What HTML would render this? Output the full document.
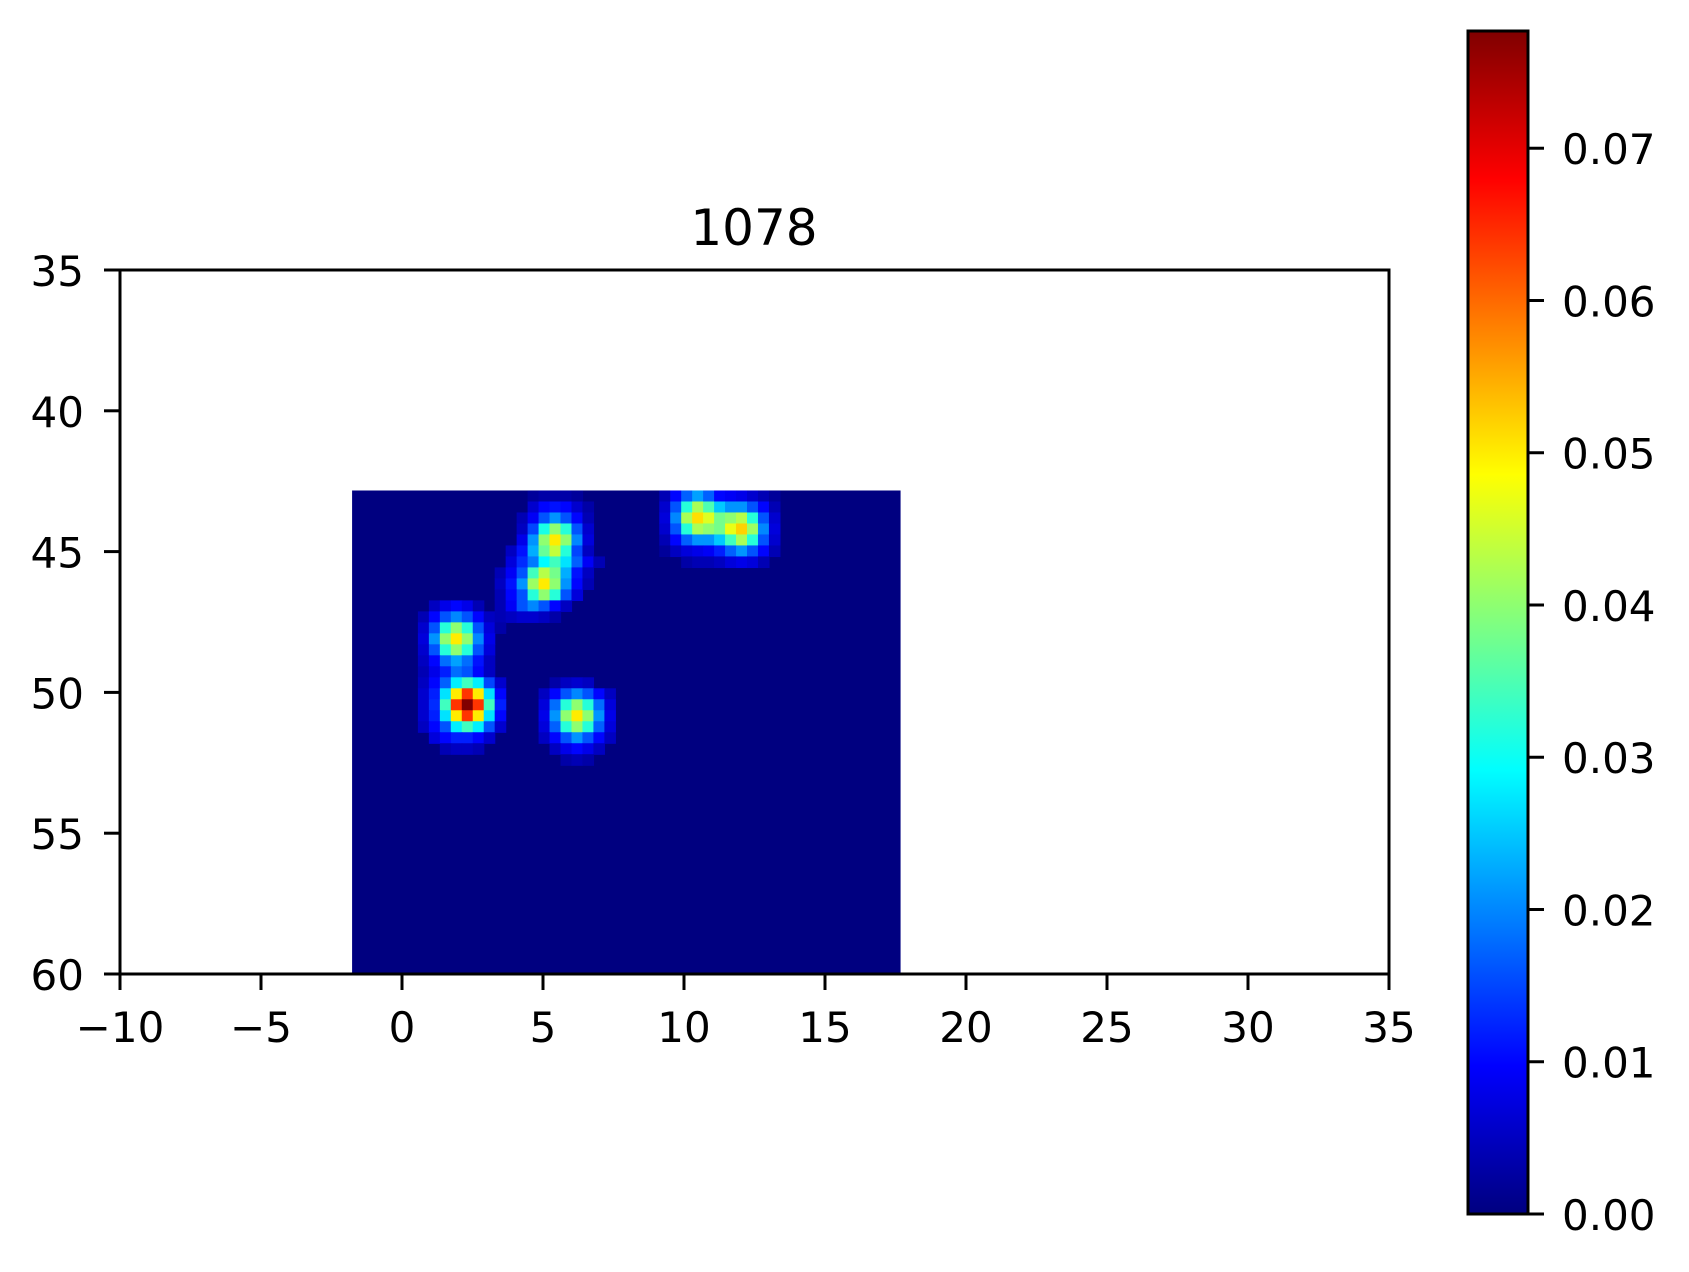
<!DOCTYPE html>
<html><head><meta charset="utf-8"><style>
html,body{margin:0;padding:0;background:#fff;}
svg{display:block;font-family:"DejaVu Sans","Liberation Sans",sans-serif;}
</style></head><body>
<svg id="chart" width="1689" height="1272" viewBox="0 0 1689 1272" xmlns="http://www.w3.org/2000/svg">
<rect x="0" y="0" width="1689" height="1272" fill="#fff"/>
<text x="754" y="245" font-size="50" text-anchor="middle" fill="#000">1078</text>
<g id="plot"></g>
<g id="axes"></g>
<g id="cbar"></g>
</svg>
<script>
// ---- data ----
const xTicks = [-10, -5, 0, 5, 10, 15, 20, 25, 30, 35];
const yTicks = [35, 40, 45, 50, 55, 60];
const cbTicks = [0.00, 0.01, 0.02, 0.03, 0.04, 0.05, 0.06, 0.07];
const xDomain = [-10, 35];
const yDomain = [35, 60];
const extentX = [-1.77, 17.68];
const extentY = [42.83, 60];
const nCols = 50;
const nRows = 44;
const vMax = 0.0777;
// sparse heatmap rows: [row, startCol, values]
const cellRows = [
  [0, 16, [0.002,0.003,0.003,0.003,0.002]],
  [1, 16, [0.006,0.010,0.011,0.010,0.006,0.003]],
  [2, 15, [0.004,0.009,0.016,0.021,0.016,0.010,0.004]],
  [3, 15, [0.005,0.015,0.031,0.040,0.032,0.016,0.006]],
  [4, 15, [0.008,0.021,0.040,0.050,0.040,0.020,0.007]],
  [5, 14, [0.005,0.011,0.023,0.037,0.044,0.032,0.015,0.005]],
  [6, 14, [0.007,0.013,0.019,0.029,0.034,0.027,0.017,0.009,0.004]],
  [7, 13, [0.004,0.009,0.016,0.034,0.043,0.038,0.023,0.011,0.005]],
  [8, 13, [0.005,0.011,0.021,0.041,0.050,0.040,0.021,0.010,0.004]],
  [9, 13, [0.004,0.010,0.016,0.032,0.040,0.032,0.016,0.007]],
  [10, 13, [0.004,0.009,0.016,0.020,0.016,0.010,0.005]],
  [10, 7, [0.005,0.008,0.010,0.008,0.004]],
  [11, 6, [0.004,0.010,0.016,0.020,0.016,0.010,0.005,0.004,0.005,0.006,0.006,0.005,0.003]],
  [12, 6, [0.006,0.016,0.032,0.040,0.032,0.016,0.007,0.003]],
  [13, 6, [0.007,0.021,0.040,0.050,0.040,0.020,0.008]],
  [14, 6, [0.006,0.016,0.032,0.040,0.032,0.016,0.007]],
  [15, 6, [0.005,0.010,0.018,0.022,0.018,0.011,0.005]],
  [16, 6, [0.004,0.008,0.012,0.018,0.016,0.010,0.005]],
  [17, 6, [0.005,0.010,0.017,0.028,0.034,0.028,0.015,0.006]],
  [18, 6, [0.006,0.012,0.027,0.050,0.064,0.050,0.027,0.010]],
  [19, 6, [0.006,0.013,0.034,0.064,0.078,0.064,0.034,0.012]],
  [20, 6, [0.006,0.012,0.027,0.050,0.064,0.050,0.027,0.010]],
  [21, 6, [0.005,0.010,0.016,0.028,0.034,0.028,0.016,0.006]],
  [22, 7, [0.007,0.010,0.012,0.012,0.010,0.006]],
  [23, 8, [0.004,0.005,0.005,0.004]],
  [17, 18, [0.003,0.005,0.006,0.005]],
  [18, 17, [0.005,0.010,0.016,0.020,0.016,0.010,0.005]],
  [19, 17, [0.007,0.018,0.032,0.040,0.032,0.018,0.007]],
  [20, 17, [0.008,0.021,0.040,0.050,0.040,0.021,0.008]],
  [21, 17, [0.007,0.017,0.032,0.040,0.032,0.017,0.007]],
  [22, 17, [0.005,0.010,0.016,0.021,0.016,0.010,0.005]],
  [23, 18, [0.005,0.008,0.010,0.008,0.005]],
  [24, 19, [0.003,0.004,0.003]],
  [0, 28, [0.004,0.010,0.017,0.022,0.017,0.010,0.009,0.008,0.006,0.004,0.002]],
  [1, 28, [0.006,0.016,0.032,0.042,0.035,0.025,0.021,0.021,0.016,0.010,0.004]],
  [2, 28, [0.007,0.020,0.042,0.051,0.046,0.038,0.040,0.043,0.032,0.016,0.006]],
  [3, 28, [0.006,0.016,0.032,0.042,0.040,0.038,0.047,0.052,0.041,0.020,0.007]],
  [4, 28, [0.004,0.010,0.017,0.021,0.021,0.025,0.034,0.042,0.032,0.016,0.006]],
  [5, 28, [0.002,0.005,0.007,0.008,0.009,0.012,0.017,0.021,0.016,0.010,0.004]],
  [6, 30, [0.003,0.004,0.004,0.005,0.007,0.008,0.007,0.004]]
];

// ---- layout ----
const AX = {l:120, r:1389, t:270, b:974};
const CB = {l:1468, r:1528, t:31, b:1214};
const NS = "http://www.w3.org/2000/svg";
function sx(v){ return AX.l + (v - xDomain[0]) / (xDomain[1]-xDomain[0]) * (AX.r-AX.l); }
function sy(v){ return AX.t + (v - yDomain[0]) / (yDomain[1]-yDomain[0]) * (AX.b-AX.t); }
function cy(v){ return CB.b - v / vMax * (CB.b-CB.t); }
function jet(t){
  t = Math.max(0, Math.min(1, t));
  function f(x){ return Math.max(0, Math.min(1, x)); }
  const r = f(Math.min(4*t-1.5, -4*t+4.5));
  const g = f(Math.min(4*t-0.5, -4*t+3.5));
  const b = f(Math.min(4*t+0.5, -4*t+2.5));
  return "rgb("+Math.round(r*255)+","+Math.round(g*255)+","+Math.round(b*255)+")";
}
function mk(tag, attrs, parent){
  const e = document.createElementNS(NS, tag);
  for (const k in attrs) e.setAttribute(k, attrs[k]);
  parent.appendChild(e);
  return e;
}
const plot = document.getElementById('plot');
const axes = document.getElementById('axes');
const cbar = document.getElementById('cbar');

const grid = [];
for (let r=0;r<nRows;r++){ grid.push(new Array(nCols).fill(0)); }
cellRows.forEach(function(cr){
  cr[2].forEach(function(v,i){
    const c = cr[1]+i;
    if (c<nCols && cr[0]<nRows) grid[cr[0]][c] = Math.max(grid[cr[0]][c], v);
  });
});
const x0 = sx(extentX[0]), x1 = sx(extentX[1]), y0 = sy(extentY[0]), y1 = sy(extentY[1]);
const cw = (x1-x0)/nCols, ch = (y1-y0)/nRows;
const bg = mk('rect', {x:x0, y:y0, width:x1-x0, height:y1-y0, fill:jet(0)}, plot);


for (let r=0;r<nRows;r++){
  for (let c=0;c<nCols;c++){
    const v = grid[r][c];
    if (v<=0) continue;
    const cell = mk('rect', {x:(x0+c*cw).toFixed(2), y:(y0+r*ch).toFixed(2), width:(cw+0.6).toFixed(2), height:(ch+0.6).toFixed(2), fill:jet(v/vMax)}, plot);
    
    
  }
}

const frame = mk('rect', {x:AX.l, y:AX.t, width:AX.r-AX.l, height:AX.b-AX.t, fill:'none', stroke:'#000', 'stroke-width':3}, axes);


xTicks.forEach(function(t){
  const x = sx(t);
  const tk = mk('line', {x1:x, x2:x, y1:AX.b, y2:AX.b+16, stroke:'#000', 'stroke-width':3}, axes);
  
  
  const lb = mk('text', {x:x, y:1042, 'font-size':42, 'text-anchor':'middle', fill:'#000'}, axes);
  lb.textContent = (t<0 ? '\u2212'+Math.abs(t) : String(t));
  
  
});
yTicks.forEach(function(t){
  const y = sy(t);
  const tk = mk('line', {x1:AX.l-16, x2:AX.l, y1:y, y2:y, stroke:'#000', 'stroke-width':3}, axes);
  
  
  const lb = mk('text', {x:84, y:y+16, 'font-size':42, 'text-anchor':'end', fill:'#000'}, axes);
  lb.textContent = String(t);
  
  
});

const defs = mk('defs', {}, cbar);
const grad = mk('linearGradient', {id:'jetgrad', x1:0, y1:1, x2:0, y2:0}, defs);
for (let i=0;i<=64;i++){
  mk('stop', {offset:(i/64), 'stop-color':jet(i/64)}, grad);
}
const cbRect = mk('rect', {x:CB.l, y:CB.t, width:CB.r-CB.l, height:CB.b-CB.t, fill:'url(#jetgrad)', stroke:'#000', 'stroke-width':3}, cbar);


cbTicks.forEach(function(t){
  const y = cy(t);
  const tk = mk('line', {x1:CB.r, x2:CB.r+16, y1:y, y2:y, stroke:'#000', 'stroke-width':3}, cbar);
  
  
  const lb = mk('text', {x:1562, y:y+16, 'font-size':42, fill:'#000'}, cbar);
  lb.textContent = t.toFixed(2);
  
  
});
</script>
</body></html>
